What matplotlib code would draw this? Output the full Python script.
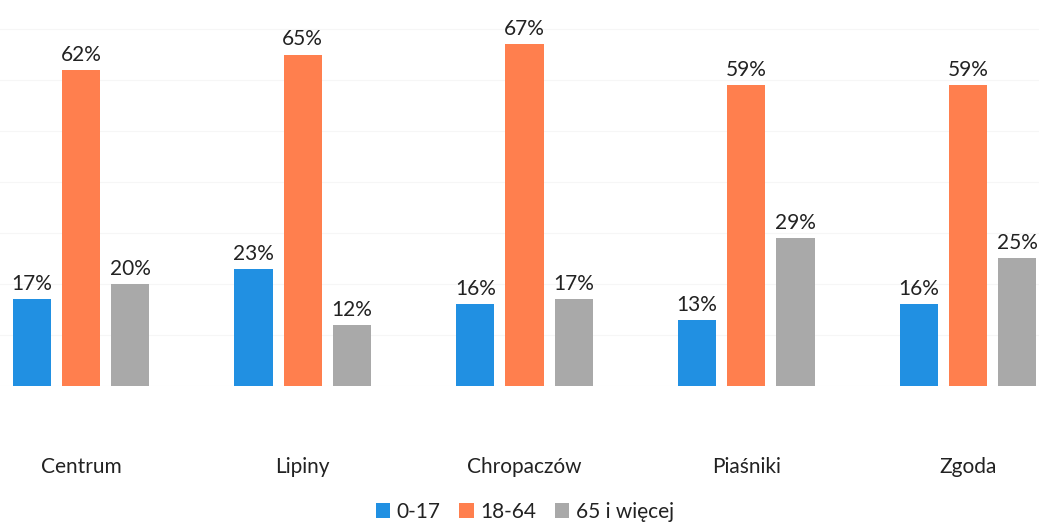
import numpy as np
import matplotlib.pyplot as plt

plt.rcParams['font.family'] = ['Lato', 'DejaVu Sans']

categories = ['Centrum', 'Lipiny', 'Chropaczów', 'Piaśniki', 'Zgoda']
series_names = ['0-17', '18-64', '65 i więcej']
v_0_17 = [17, 23, 16, 13, 16]
v_18_64 = [62, 65, 67, 59, 59]
v_65 = [20, 12, 17, 29, 25]
colors = ['#2190E2', '#FF7F4E', '#A9A9A9']

fig = plt.figure(figsize=(10.39, 5.25), dpi=100)
ax = fig.add_axes([0, 0.265, 1, 0.735])

x = np.arange(len(categories))
width = 0.172
offset = 0.222
for i, (vals, name, col) in enumerate(zip([v_0_17, v_18_64, v_65], series_names, colors)):
    pos = x + (i - 1) * offset
    bars = ax.bar(pos, vals, width, color=col, label=name, zorder=2)
    for b, v in zip(bars, vals):
        ax.text(b.get_x() + b.get_width() / 2, v + 1.0, f'{v}%',
                ha='center', va='bottom', fontsize=15, color='#222222')

ax.set_xlim(-0.365, 4.32)
ax.set_ylim(0, 75.7)
ax.set_yticks(np.arange(0, 71, 10))
ax.yaxis.grid(True, color='#f6f6f6', linewidth=0.8, zorder=0)
ax.tick_params(axis='y', left=False, labelleft=False)
ax.set_xticks(x)
ax.set_xticklabels(categories, fontsize=15, color='#222222')
ax.tick_params(axis='x', length=0, pad=51)
for s in ax.spines.values():
    s.set_visible(False)

fig.legend(loc='center', bbox_to_anchor=(0.505, 1 - 512 / 525), ncol=3, frameon=False,
           fontsize=15, handlelength=0.7, handleheight=0.7, handletextpad=0.3,
           columnspacing=0.9, labelcolor='#222222')

fig.savefig('out.png', dpi=100)
